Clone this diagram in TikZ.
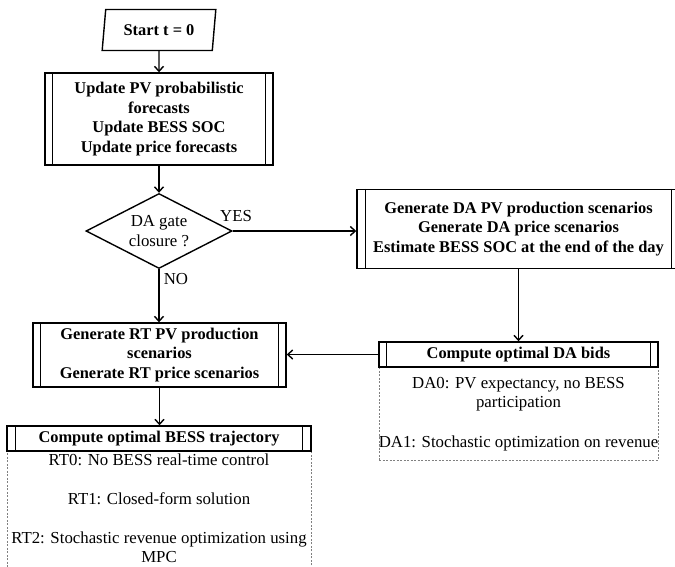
\documentclass[tikz,border=0pt]{standalone}
\usepackage{fontspec}
\setmainfont{Liberation Serif}
\usetikzlibrary{shapes.geometric,arrows.meta}
\begin{document}
\begin{tikzpicture}[x=1pt,y=-1pt,
  font=\fontsize{16.8}{19.5}\selectfont,
  box/.style={draw, line width=1.4pt, font=\fontsize{16.4}{19.5}\selectfont\bfseries, align=center, inner sep=0pt},
  dashbox/.style={draw=gray, line width=0.8pt, dash pattern=on 2pt off 1.5pt, inner sep=0pt},
  bar/.style={line width=1.3pt},
  arr/.style={line width=1.4pt, -{Straight Barb[length=5pt,width=9pt]}},
  txt/.style={anchor=base, inner sep=0pt}
]
\path[use as bounding box] (0,0) rectangle (675,566);
\clip (0,0) rectangle (675,566);

% start
\node[draw, line width=1.4pt, shape=trapezium, trapezium left angle=78, trapezium right angle=102,
      trapezium stretches=true, minimum width=114pt, minimum height=41pt, inner sep=0pt,
      font=\fontsize{16.4}{19.5}\selectfont\bfseries] (start) at (159,30) {Start t = 0};

% update box
\node[box, minimum width=228pt, minimum height=92pt] (upd) at (159,119)
  {Update PV probabilistic\\forecasts\\Update BESS SOC\\Update price forecasts};
\draw[bar] ([xshift=8.5pt]upd.north west) -- ([xshift=8.5pt]upd.south west);
\draw[bar] ([xshift=-8.5pt]upd.north east) -- ([xshift=-8.5pt]upd.south east);

% decision
\node[draw, line width=1.4pt, shape=diamond, aspect=2, inner sep=0pt,
      minimum width=146pt, minimum height=75pt, align=center] (gate) at (159,231) {DA gate\\closure ?};
\node[inner sep=0pt] (yes) at (236,216) {YES};
\node[inner sep=0pt] (no) at (176,279) {NO};

% DA generation
\node[box, minimum width=323pt, minimum height=79pt] (dagen) at (518.5,229)
  {Generate DA PV production scenarios\\Generate DA price scenarios\\Estimate BESS SOC at the end of the day};
\draw[bar] ([xshift=9pt]dagen.north west) -- ([xshift=9pt]dagen.south west);
\draw[bar] ([xshift=-9pt]dagen.north east) -- ([xshift=-9pt]dagen.south east);

% DA bids
\node[dashbox, minimum width=279pt, minimum height=93pt, anchor=north] (dabody) at (518.5,367) {};
\node[box, fill=white, minimum width=279pt, minimum height=25pt] (dabids) at (518.5,354.5) {Compute optimal DA bids};
\draw[bar] ([xshift=8.5pt]dabids.north west) -- ([xshift=8.5pt]dabids.south west);
\draw[bar] ([xshift=-8.5pt]dabids.north east) -- ([xshift=-8.5pt]dabids.south east);
\node[txt] (da0) at (518.5,388) {DA0: PV expectancy, no BESS};
\node[txt] (da0b) at (518.5,407.5) {participation};
\node[txt] (da1) at (518.5,447) {DA1: Stochastic optimization on revenue};

% RT generation
\node[box, minimum width=253pt, minimum height=64pt] (rtgen) at (159.5,355)
  {Generate RT PV production\\scenarios\\Generate RT price scenarios};
\draw[bar] ([xshift=8pt]rtgen.north west) -- ([xshift=8pt]rtgen.south west);
\draw[bar] ([xshift=-8pt]rtgen.north east) -- ([xshift=-8pt]rtgen.south east);

% RT BESS
\node[dashbox, minimum width=304pt, minimum height=160pt, anchor=north] (rtbody) at (159,451) {};
\node[box, fill=white, minimum width=304pt, minimum height=25pt] (rtbess) at (159,438.5) {Compute optimal BESS trajectory};
\draw[bar] ([xshift=9pt]rtbess.north west) -- ([xshift=9pt]rtbess.south west);
\draw[bar] ([xshift=-9pt]rtbess.north east) -- ([xshift=-9pt]rtbess.south east);
\node[txt] (rt0) at (159,465) {RT0: No BESS real-time control};
\node[txt] (rt1) at (159,504) {RT1: Closed-form solution};
\node[txt] (rt2) at (159,543) {RT2: Stochastic revenue optimization using};
\node[txt] (rt2b) at (159,562) {MPC};

% connectors
\draw[arr] (start.south) -- (upd.north);
\draw[arr] (upd.south) -- (gate.north);
\draw[arr] (gate.east) -- (gate.east -| dagen.west);
\draw[arr] (gate.south) -- (gate.south |- rtgen.north);
\draw[arr] (dagen.south) -- (dabids.north);
\draw[arr] (dabids.west) -- (dabids.west -| rtgen.east);
\draw[arr] (rtgen.south) -- (rtgen.south |- rtbess.north);
\end{tikzpicture}
\end{document}
